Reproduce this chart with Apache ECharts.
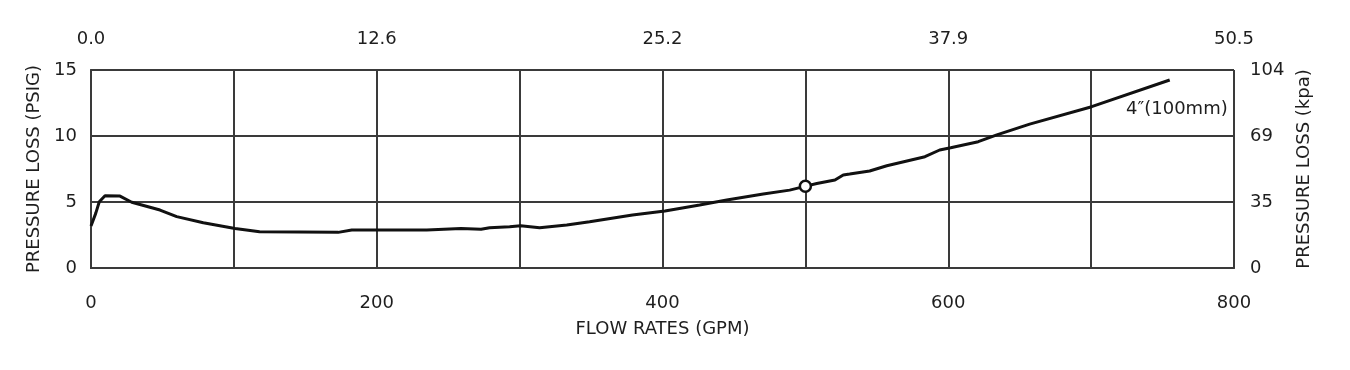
<!DOCTYPE html>
<html>
<head>
<meta charset="utf-8">
<script src="https://cdn.jsdelivr.net/npm/echarts@6/dist/echarts.min.js"></script>
<style>
  html, body { margin: 0; padding: 0; background: #fff; }
  #chart { width: 1350px; height: 370px; }
</style>
</head>
<body>
<div id="chart"></div>
<script>
// flow (GPM) vs pressure loss (PSIG)
const flowGpm = [0, 3.3, 5.8, 9.8, 20.3, 28.5, 48.3, 60, 78.6, 100.8, 118, 173, 182.5, 216, 235, 259, 273, 279, 293, 300.7, 314, 333, 349, 379, 401.7, 426, 445, 470.5, 489, 500.4, 508, 520.7, 526.5, 531, 545, 557, 583.7, 594, 601.7, 621, 634, 657, 700.4, 755];
const lossPsig = [3.18, 4.14, 5.02, 5.48, 5.45, 4.98, 4.39, 3.89, 3.43, 3.0, 2.75, 2.7, 2.88, 2.88, 2.88, 3.0, 2.93, 3.05, 3.13, 3.2, 3.05, 3.26, 3.51, 4.02, 4.32, 4.77, 5.15, 5.6, 5.9, 6.2, 6.4, 6.67, 7.05, 7.12, 7.35, 7.75, 8.43, 8.94, 9.11, 9.57, 10.08, 10.9, 12.22, 14.24];

const markerPoint = [500, 6.2];
const seriesName = '4\u2033(100mm)';

// secondary scales, shown at the primary tick positions
const topTickLabels = ['0.0', '12.6', '25.2', '37.9', '50.5'];
const rightTickLabels = ['0', '35', '69', '104'];

const font = 'DejaVu Sans';
const fs = 18;
const textColor = '#1e1e1e';
const gridColor = '#3a3a3a';

const chart = echarts.init(document.getElementById('chart'), null, { renderer: 'canvas' });

const frameLine = { show: true, lineStyle: { color: gridColor, width: 2 } };

const option = {
  backgroundColor: '#fff',
  animation: false,
  textStyle: { fontFamily: font },
  grid: { left: 91, right: 116, top: 70, bottom: 102 },
  xAxis: [
    {
      type: 'value',
      min: 0,
      max: 800,
      interval: 100,
      position: 'bottom',
      name: 'FLOW RATES (GPM)',
      nameLocation: 'middle',
      nameGap: 52,
      nameTextStyle: { fontSize: fs, color: textColor, fontFamily: font },
      axisLine: frameLine,
      axisTick: { show: false },
      splitLine: { show: true, lineStyle: { color: gridColor, width: 2 } },
      axisLabel: {
        fontSize: fs,
        color: textColor,
        margin: 26,
        formatter: (v) => (v % 200 === 0 ? String(v) : '')
      }
    },
    {
      type: 'value',
      min: 0,
      max: 800,
      interval: 200,
      position: 'top',
      axisLine: frameLine,
      axisTick: { show: false },
      splitLine: { show: false },
      axisLabel: {
        fontSize: fs,
        color: textColor,
        margin: 22,
        formatter: (v) => topTickLabels[Math.round(v / 200)]
      }
    }
  ],
  yAxis: [
    {
      type: 'value',
      min: 0,
      max: 15,
      interval: 5,
      position: 'left',
      name: 'PRESSURE LOSS (PSIG)',
      nameLocation: 'middle',
      nameRotate: 90,
      nameGap: 44,
      nameTextStyle: { fontSize: fs, color: textColor, fontFamily: font },
      axisLine: frameLine,
      axisTick: { show: false },
      splitLine: { show: true, lineStyle: { color: gridColor, width: 2 } },
      axisLabel: { fontSize: fs, color: textColor, margin: 14 }
    },
    {
      type: 'value',
      min: 0,
      max: 15,
      interval: 5,
      position: 'right',
      name: 'PRESSURE LOSS (kpa)',
      nameLocation: 'middle',
      nameRotate: 90,
      nameGap: 56,
      nameTextStyle: { fontSize: fs, color: textColor, fontFamily: font },
      axisLine: frameLine,
      axisTick: { show: false },
      splitLine: { show: false },
      axisLabel: {
        fontSize: fs,
        color: textColor,
        margin: 16,
        formatter: (v) => rightTickLabels[Math.round(v / 5)]
      }
    }
  ],
  series: [
    {
      name: seriesName,
      type: 'line',
      data: flowGpm.map((x, i) => [x, lossPsig[i]]),
      showSymbol: false,
      symbol: 'none',
      lineStyle: { color: '#111', width: 3 },
      endLabel: {
        show: true,
        formatter: seriesName,
        align: 'right',
        verticalAlign: 'middle',
        offset: [50, 29],
        fontSize: fs,
        color: textColor,
        fontFamily: font
      },
      z: 5
    },
    {
      type: 'scatter',
      data: [markerPoint],
      symbol: 'circle',
      symbolSize: 11,
      itemStyle: { color: '#fff', borderColor: '#111', borderWidth: 2.5, opacity: 1 },
      emphasis: { disabled: true },
      z: 6
    }
  ]
};

chart.setOption(option);
</script>
</body>
</html>
